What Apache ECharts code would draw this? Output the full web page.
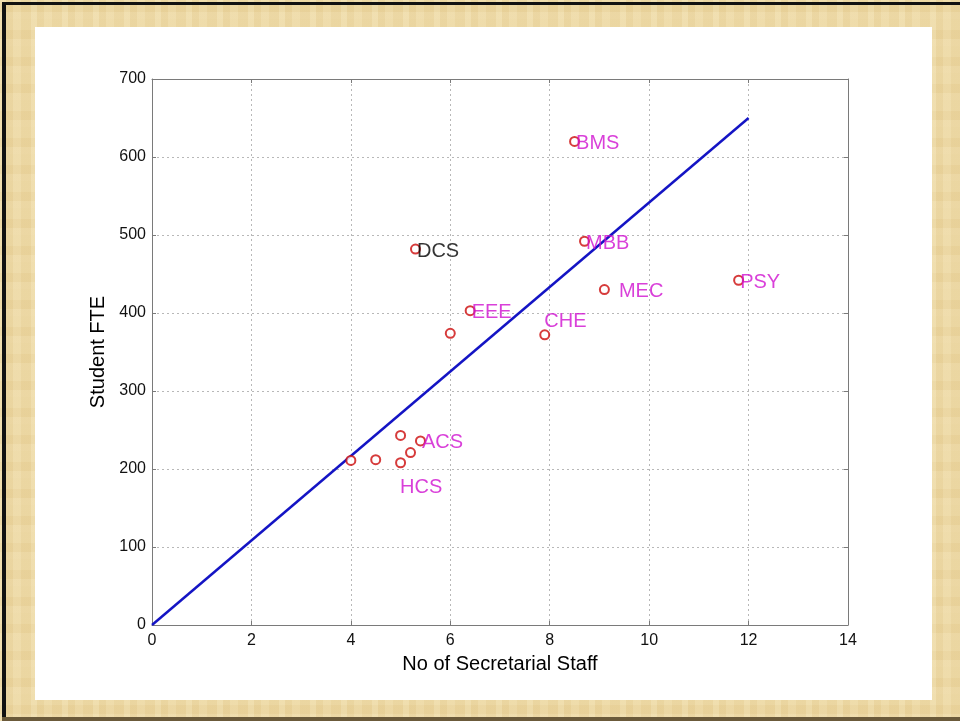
<!DOCTYPE html>
<html>
<head>
<meta charset="utf-8">
<script src="https://cdn.jsdelivr.net/npm/echarts@6/dist/echarts.min.js"></script>
<style>
  html, body { margin: 0; padding: 0; background: #fff; }
  #frame {
    position: absolute; left: 0; top: 0; width: 960px; height: 721px;
    background-color: #ecd7a2;
    background-image:
      repeating-linear-gradient(90deg, rgba(255,248,220,0.16) 0 6px, rgba(200,160,80,0.07) 6px 13px, rgba(255,245,215,0.10) 13px 21px, rgba(205,165,85,0.06) 21px 31px),
      repeating-linear-gradient(0deg, rgba(255,248,225,0.10) 0 7px, rgba(195,155,75,0.05) 7px 16px, rgba(255,245,215,0.08) 16px 27px);
  }
  #edgeL { position: absolute; left: 2px; top: 3px; width: 4px; height: 718px; background: #111; }
  #edgeT { position: absolute; left: 2px; top: 2px; width: 958px; height: 3px; background: #111; }
  #edgeB { position: absolute; left: 2px; top: 717px; width: 958px; height: 4px; background: #6b5a3a; }
  #chart { position: absolute; left: 35px; top: 27px; width: 897px; height: 673px; background: #fff; }
</style>
</head>
<body>
<div id="frame"></div>
<div id="edgeL"></div>
<div id="edgeT"></div>
<div id="edgeB"></div>
<div id="chart"></div>
<script>
// Departments: secretarial staff vs student FTE
const staff   = [4,   4.5, 5,   5,   5.2, 5.4,   5.3,   6,   6.4,   7.9,   8.5,   8.7,   9.1,   11.8];
const fte     = [211, 212, 243, 208, 221, 236,   482,   374, 403,   372,   620,   492,   430,   442];
const names   = ['',  '',  '',  'HCS', '', 'ACS', 'DCS', '', 'EEE', 'CHE', 'BMS', 'MBB', 'MEC', 'PSY'];

// Fitted trend line end points
const fitX = [0, 12];
const fitY = [0, 650];

const xTicks = [0, 2, 4, 6, 8, 10, 12, 14];
const yTicks = [0, 100, 200, 300, 400, 500, 600, 700];

// label placement per department
const labelPlace = {
  HCS: { position: 'insideLeft', offset: [0, 25] },
  CHE: { position: 'insideLeft', offset: [0, -13] },
  MEC: { position: 'right', distance: 9, offset: [0, 2] },
  DCS: { position: 'right', distance: -4, offset: [0, 2], color: '#000' }
};
const defaultPlace = { position: 'right', distance: -4, offset: [0, 2] };

const FONT = '"Liberation Sans", Arial, Helvetica, sans-serif';
const MAGENTA = '#d010d0';

const points = staff.map((x, i) => {
  const item = { value: [x, fte[i]], name: names[i] };
  if (names[i]) {
    const p = labelPlace[names[i]] || defaultPlace;
    item.label = Object.assign({ show: true }, p);
  }
  return item;
});

const chart = echarts.init(document.getElementById('chart'));

const axisCommon = {
  type: 'value',
  axisLine: { show: true, onZero: false, lineStyle: { color: '#7a7a7a', width: 1 } },
  axisTick: { show: true, inside: true, length: 4, lineStyle: { color: '#7a7a7a' } }
};

chart.setOption({
  animation: false,
  textStyle: { fontFamily: FONT },
  grid: { left: 117, top: 52, right: 84, bottom: 75 },
  xAxis: [
    Object.assign({}, axisCommon, {
      min: xTicks[0], max: xTicks[xTicks.length - 1], interval: 2,
      position: 'bottom',
      name: 'No of Secretarial Staff', nameLocation: 'middle', nameGap: 29,
      nameTextStyle: { fontSize: 20, color: '#000', fontFamily: FONT },
      axisLabel: { fontSize: 16, color: '#111', margin: 8, fontFamily: FONT },
      splitLine: { show: true, lineStyle: { color: '#b8b8b8', type: [2, 3], width: 1 } }
    }),
    Object.assign({}, axisCommon, {
      min: xTicks[0], max: xTicks[xTicks.length - 1], interval: 2,
      position: 'top', axisLabel: { show: false }, splitLine: { show: false }
    })
  ],
  yAxis: [
    Object.assign({}, axisCommon, {
      min: yTicks[0], max: yTicks[yTicks.length - 1], interval: 100,
      position: 'left',
      name: 'Student FTE', nameLocation: 'middle', nameGap: 34,
      nameTextStyle: { fontSize: 20, color: '#000', fontFamily: FONT },
      axisLabel: { fontSize: 16, color: '#111', margin: 6, fontFamily: FONT },
      splitLine: { show: true, lineStyle: { color: '#b8b8b8', type: [2, 3], width: 1 } }
    }),
    Object.assign({}, axisCommon, {
      min: yTicks[0], max: yTicks[yTicks.length - 1], interval: 100,
      position: 'right', axisLabel: { show: false }, splitLine: { show: false }
    })
  ],
  series: [
    {
      type: 'line',
      xAxisIndex: 0, yAxisIndex: 0,
      data: fitX.map((x, i) => [x, fitY[i]]),
      symbol: 'none',
      lineStyle: { color: '#1414c4', width: 2.5 },
      z: 2
    },
    {
      type: 'scatter',
      xAxisIndex: 0, yAxisIndex: 0,
      data: points,
      symbol: 'emptyCircle',
      symbolSize: 9,
      itemStyle: { color: '#cc0a0a', borderColor: '#cc0a0a', borderWidth: 2.5 },
      label: {
        show: false,
        formatter: '{b}',
        fontSize: 20,
        color: MAGENTA,
        fontFamily: FONT
      },
      z: 3
    }
  ]
});
</script>
</body>
</html>
